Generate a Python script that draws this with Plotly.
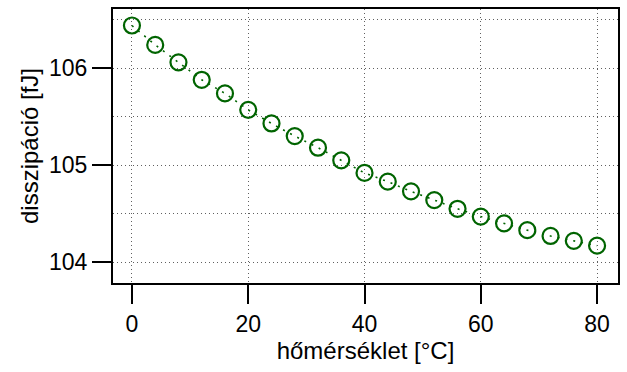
import plotly.graph_objects as go

# Dissipation versus temperature
temperature_c = [0, 4, 8, 12, 16, 20, 24, 28, 32, 36, 40,
                 44, 48, 52, 56, 60, 64, 68, 72, 76, 80]
dissipation_fj = [106.44, 106.24, 106.06, 105.88, 105.74, 105.57, 105.43,
                  105.30, 105.18, 105.05, 104.92, 104.83, 104.73, 104.64,
                  104.55, 104.47, 104.40, 104.33, 104.27, 104.22, 104.17]

x_ticks = [0, 20, 40, 60, 80]
y_ticks = [104, 105, 106]

green = "#006400"
tick_font = dict(family="Liberation Sans, Arial, sans-serif", size=23,
                 color="black")
title_font = dict(family="Liberation Sans, Arial, sans-serif", size=24,
                  color="black")
grid_style = dict(showgrid=True, gridcolor="#606060", gridwidth=1,
                  griddash="1px,3px")

fig = go.Figure(
    go.Scatter(
        x=temperature_c,
        y=dissipation_fj,
        mode="lines+markers",
        line=dict(color=green, width=1.6, dash="2px,6px"),
        marker=dict(symbol="circle-open", size=16, color=green,
                    line=dict(color=green, width=2.2)),
        showlegend=False,
    )
)

axis_common = dict(
    showline=True, linecolor="black", linewidth=2, mirror=True,
    ticks="outside", ticklen=19, tickwidth=2, tickcolor="black",
    zeroline=False, tickfont=tick_font, **grid_style,
)

fig.update_xaxes(
    range=[-3.26, 83.6], tickvals=x_ticks,
    title=dict(text="hőmérséklet [°C]", font=title_font, standoff=0),
    **axis_common,
)
fig.update_yaxes(
    range=[103.785, 106.61], tickvals=y_ticks,
    minor=dict(dtick=0.5, tick0=104, ticks="", **grid_style),
    title=dict(text="disszipáció [fJ]", font=title_font, standoff=4),
    **axis_common,
)

fig.update_layout(
    width=627, height=372,
    margin=dict(l=113, r=8, t=7, b=89),
    paper_bgcolor="white", plot_bgcolor="white",
    font=tick_font,
)

fig.write_html("out.html")
